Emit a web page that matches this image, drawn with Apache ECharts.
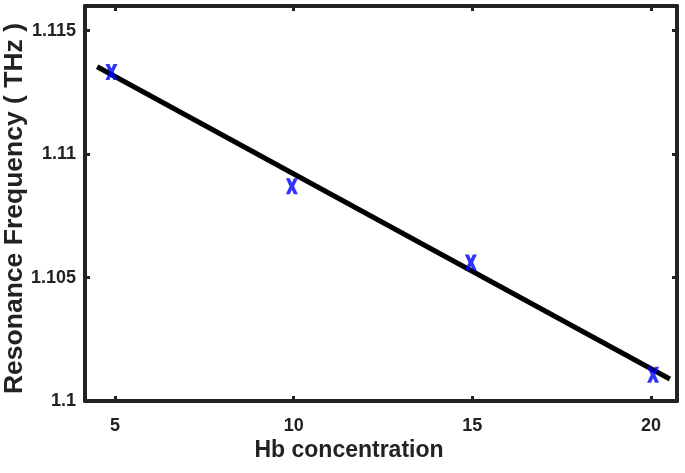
<!DOCTYPE html>
<html>
<head>
<meta charset="utf-8">
<script src="https://cdn.jsdelivr.net/npm/echarts@6/dist/echarts.min.js"></script>
<style>html,body{margin:0;padding:0;background:#fff}#c{width:685px;height:473px}</style>
</head>
<body>
<div id="c"></div>
<script>
// Measured points (Hb concentration vs resonance frequency)
const hb = [4.9, 9.95, 14.96, 20.06];
const freq = [1.11333, 1.1087, 1.10561, 1.10106];
// Linear fit line endpoints
const fitX = [4.5, 20.53];
const fitY = [1.11354, 1.10089];
// Tick labels
const xTicks = [5, 10, 15, 20];
const yTicks = [1.1, 1.105, 1.11, 1.115];

const chart = echarts.init(document.getElementById('c'));
const axisColor = '#222';
const font = 'Liberation Sans, Arial, sans-serif';
const xMin = 4.16, xMax = 20.73, yMin = 1.1, yMax = 1.116;

function xAx(pos, show) {
  return {
    type: 'value', position: pos, min: xMin, max: xMax,
    name: show ? 'Hb concentration' : '',
    nameLocation: 'middle', nameGap: 38, nameMoveOverlap: false,
    nameTextStyle: { fontFamily: font, fontWeight: 'bold', fontSize: 23, color: axisColor, padding: [0, 64, 0, 0] },
    axisLine: { show: true, onZero: false, lineStyle: { color: axisColor, width: 4 } },
    axisTick: { show: true, inside: true, length: 5, customValues: xTicks, lineStyle: { color: axisColor, width: 3 } },
    axisLabel: { show: show, customValues: xTicks, margin: 16, fontFamily: font, fontWeight: 'bold', fontSize: 18, color: axisColor },
    splitLine: { show: false }
  };
}
function yAx(pos, show) {
  return {
    type: 'value', position: pos, min: yMin, max: yMax,
    name: show ? 'Resonance Frequency ( THz )' : '',
    nameLocation: 'middle', nameGap: 57, nameMoveOverlap: false,
    nameTextStyle: { fontFamily: font, fontWeight: 'bold', fontSize: 26.5, color: axisColor, padding: [0, 10, 0, 0] },
    axisLine: { show: true, onZero: false, lineStyle: { color: axisColor, width: 4 } },
    axisTick: { show: true, inside: true, length: 5, customValues: yTicks, lineStyle: { color: axisColor, width: 3 } },
    axisLabel: { show: show, customValues: yTicks, margin: 9, fontFamily: font, fontWeight: 'bold', fontSize: 18, color: axisColor,
      formatter: v => String(+v.toFixed(3)) },
    splitLine: { show: false }
  };
}

const xMark = 'path://M0,0 L4,0 L6,4.5 L8,0 L12,0 L8.3,8 L12,16 L8,16 L6,11.5 L4,16 L0,16 L3.7,8 Z';

chart.setOption({
  animation: false,
  backgroundColor: '#fff',
  grid: { left: 85, right: 8, top: 6, bottom: 72, containLabel: false, outerBoundsMode: 'none' },
  xAxis: [xAx('bottom', true), xAx('top', false)],
  yAxis: [yAx('left', true), yAx('right', false)],
  series: [
    {
      type: 'line', data: fitX.map((x, i) => [x, fitY[i]]),
      showSymbol: false, symbol: 'none',
      lineStyle: { color: '#000', width: 5 }, z: 2
    },
    {
      type: 'scatter', data: hb.map((x, i) => [x, freq[i]]),
      symbol: xMark, symbolSize: [12, 16],
      itemStyle: { color: '#0000ff' }, z: 3
    }
  ]
});
</script>
</body>
</html>
